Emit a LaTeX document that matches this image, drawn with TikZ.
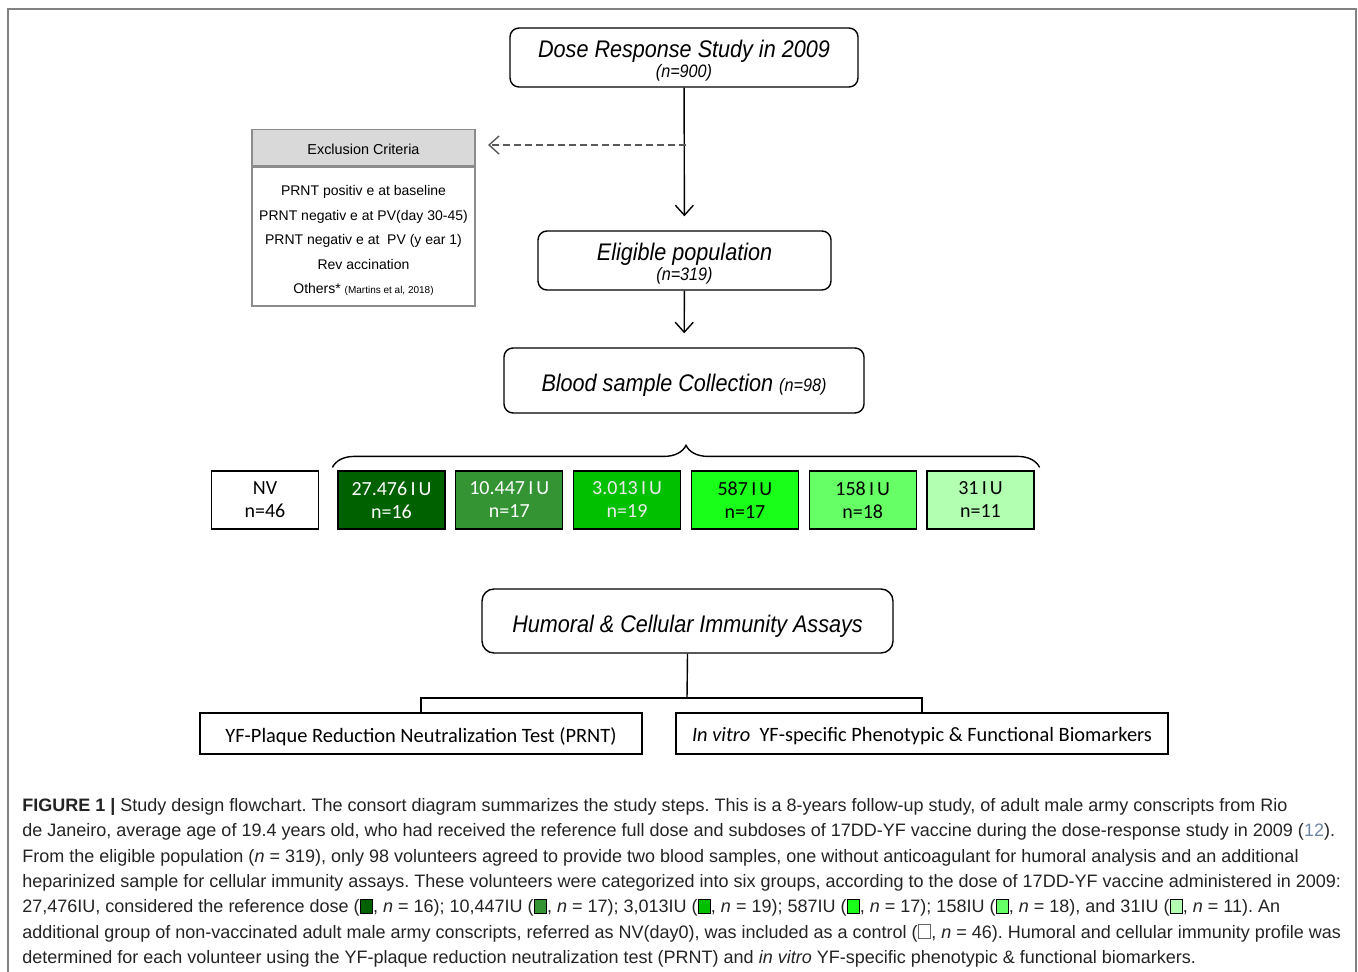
\documentclass[tikz,border=0pt]{standalone}
\usepackage{fontspec}
\setmainfont{Liberation Sans}
\newfontfamily\narrowsf[FakeStretch=0.9]{Liberation Sans}
\newfontfamily\capsf{Liberation Sans}
\newfontfamily\calibri{Carlito}
\usetikzlibrary{arrows.meta,decorations.pathreplacing,positioning}

\definecolor{doseA}{RGB}{0,97,0}
\definecolor{doseB}{RGB}{52,148,52}
\definecolor{doseC}{RGB}{0,192,0}
\definecolor{doseD}{RGB}{26,255,26}
\definecolor{doseE}{RGB}{102,255,102}
\definecolor{doseF}{RGB}{178,255,178}
\definecolor{headgray}{RGB}{217,217,217}
\definecolor{framegray}{RGB}{130,130,130}
\definecolor{capgray}{RGB}{35,35,35}
\definecolor{refblue}{RGB}{110,135,165}

% small coloured square for the caption
\newcommand{\swatch}[2][black]{{\setlength{\fboxsep}{0pt}\setlength{\fboxrule}{0.6pt}\fcolorbox{#1}{#2}{\rule{0pt}{6.5pt}\rule{5.5pt}{0pt}}}}
% lower a line of text without changing the node size
\newcommand{\dropby}[2]{\raisebox{-#1}[\height][\depth]{#2}}

\begin{document}
\frenchspacing
\begin{tikzpicture}[x=0.5pt, y=-0.5pt,
  roundbox/.style={draw, line width=0.7pt, rounded corners=4.5pt, align=center, inner sep=0pt,
    font=\narrowsf\itshape\fontsize{12}{13}\selectfont},
  groupbox/.style={draw, line width=0.6pt, minimum width=53.5pt, minimum height=29pt,
    align=center, inner sep=0pt, font=\calibri\fontsize{10}{11.5}\selectfont},
  assaybox/.style={draw, line width=0.6pt, minimum height=20.5pt, inner sep=0pt,
    font=\calibri\fontsize{10.2}{12}\selectfont},
  arr/.style={-{Straight Barb[length=5pt,width=9pt]}, line width=0.7pt, shorten >=7pt},
  dasharr/.style={-{Straight Barb[length=5pt,width=9pt]}, line width=0.7pt, draw=black!65,
    dash pattern=on 3.5pt off 2pt}]

\useasboundingbox (0,0) rectangle (1358,972);

% Frame of the figure
\draw[framegray, line width=1pt] (8,972) -- (8,9) -- (1356,9) -- (1356,972);

% Flow boxes
\node[roundbox, minimum width=174pt, minimum height=29.5pt] (dose) at (684,57.5)
  {\dropby{1.5pt}{Dose Response Study in 2009}\\[-3pt]
   \dropby{1.5pt}{\fontsize{9}{10}\selectfont (n=900)}};
\node[roundbox, minimum width=146.5pt, minimum height=29.5pt] (elig) at (684.5,260.5)
  {\dropby{1.5pt}{Eligible population}\\[-3pt]
   \dropby{1.5pt}{\fontsize{9}{10}\selectfont (n=319)}};
\node[roundbox, minimum width=180pt, minimum height=32.5pt] (blood) at (684,380.5)
  {\dropby{2.5pt}{Blood sample Collection {\fontsize{9}{10}\selectfont (n=98)}}};

% Exclusion criteria
\node[draw=black!45, line width=0.6pt, minimum width=111.5pt, minimum height=69.5pt,
  align=center, inner sep=0pt, font=\fontsize{7}{12.25}\selectfont] (excl) at (363.5,236.5)
  {\rule{0pt}{9.3pt}PRNT positiv e at baseline\\
   PRNT negativ e at PV(day 30-45)\\
   PRNT negativ e at \ PV (y ear 1)\\
   Rev accination\\
   Others* {\fontsize{5}{6}\selectfont (Martins et al, 2018)}};
\node[draw=black!45, fill=headgray, line width=0.6pt, minimum width=111.5pt, minimum height=18pt,
  inner sep=0pt, font=\fontsize{7.2}{9}\selectfont, anchor=south] (exclhead) at (excl.north)
  {\dropby{1pt}{Exclusion Criteria}};

\coordinate (split) at (686,145);
\coordinate (exclin) at (488,145);

% Arrows
\draw[arr] (dose) -- (elig);
\draw[arr] (elig) -- (blood);
\draw[dasharr] (split) -- (exclin);

% Groups
\node[groupbox] (nv) at (265,500) {NV\\n=46};
\foreach \i/\dose/\n/\col/\txt in {0/27.476/16/doseA/white, 1/10.447/17/doseB/white,
    2/3.013/19/doseC/white!92!black, 3/587/17/doseD/black, 4/158/18/doseE/black, 5/31/11/doseF/black} {
  \node[groupbox, fill=\col, text=\txt] (g\i) at (391.5+117.8*\i,500) {\dose\,I\kern1.5pt U\\n=\n};
}

% Brace over the vaccinated groups
\draw[line width=0.7pt, decorate, decoration={brace, amplitude=11pt}]
  ([xshift=-2.5pt,yshift=1.5pt]g0.north west) -- ([xshift=2.5pt,yshift=1.5pt]g5.north east);

% Assays
\node[roundbox, rounded corners=6pt, minimum width=205.5pt, minimum height=32pt] (humoral) at (687.5,621)
  {\dropby{2.5pt}{Humoral \& Cellular Immunity Assays}};
\node[assaybox, minimum width=221pt] (prnt) at (421,733.5)
  {\dropby{1.5pt}{YF-Plaque Reduction Neutralization Test (PRNT)}};
\node[assaybox, minimum width=246pt] (invitro) at (922,733.5)
  {\dropby{1.5pt}{\textit{In vitro} \ YF-specific Phenotypic \& Functional Biomarkers}};

\coordinate (fork) at (687,698);
\draw[line width=0.7pt] (humoral.south) -- (fork);
\draw[line width=0.7pt] (fork) -| (prnt.north);
\draw[line width=0.7pt] (fork) -| (invitro.north);

% Caption
\node[anchor=north west, inner sep=0pt, align=left, text=capgray,
  font=\capsf\fontsize{9}{12.67}\selectfont] (caption) at (22,798)
  {{\bfseries FIGURE 1 |} Study design flowchart. The consort diagram summarizes the study steps. This is a 8-years follow-up study, of adult male army conscripts from Rio\\
   de Janeiro, average age of 19.4 years old, who had received the reference full dose and subdoses of 17DD-YF vaccine during the dose-response study in 2009 ({\color{refblue}12}).\\
   From the eligible population ({\itshape n} = 319), only 98 volunteers agreed to provide two blood samples, one without anticoagulant for humoral analysis and an additional\\
   heparinized sample for cellular immunity assays. These volunteers were categorized into six groups, according to the dose of 17DD-YF vaccine administered in 2009:\\
   27,476IU, considered the reference dose (\swatch{doseA}, {\itshape n} = 16); 10,447IU (\swatch{doseB}, {\itshape n} = 17); 3,013IU (\swatch{doseC}, {\itshape n} = 19); 587IU (\swatch{doseD}, {\itshape n} = 17); 158IU (\swatch{doseE}, {\itshape n} = 18), and 31IU (\swatch{doseF}, {\itshape n} = 11). An\\
   additional group of non-vaccinated adult male army conscripts, referred as NV(day0), was included as a control (\swatch[black!60]{white}, {\itshape n} = 46). Humoral and cellular immunity profile was\\
   determined for each volunteer using the YF-plaque reduction neutralization test (PRNT) and {\itshape in vitro} YF-specific phenotypic \& functional biomarkers.};

\end{tikzpicture}
\end{document}
